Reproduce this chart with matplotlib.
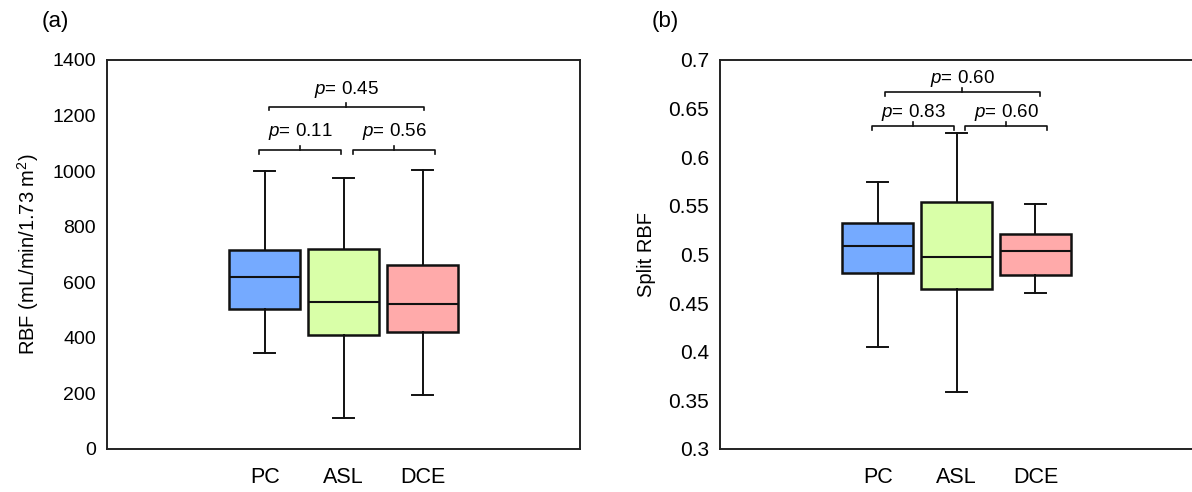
import numpy as np
import matplotlib
matplotlib.use('Agg')
import matplotlib.pyplot as plt

plt.rcParams['font.family'] = ['Liberation Sans', 'DejaVu Sans']
plt.rcParams['mathtext.fontset'] = 'custom'
plt.rcParams['mathtext.it'] = 'Liberation Sans:italic'
plt.rcParams['mathtext.rm'] = 'Liberation Sans'

# ---------------- data ----------------
methods = ['PC', 'ASL', 'DCE']
box_colors = ['#75AAFF', '#D9FFA8', '#FFAAAA']

# panel (a) RBF
rbf_low = [344, 110, 194]
rbf_q1 = [503, 411, 422]
rbf_med = [620, 528, 522]
rbf_q3 = [716, 719, 662]
rbf_high = [1000, 974, 1004]

# panel (b) split RBF
split_low = [0.405, 0.359, 0.460]
split_q1 = [0.481, 0.464, 0.479]
split_med = [0.509, 0.497, 0.503]
split_q3 = [0.532, 0.554, 0.521]
split_high = [0.574, 0.625, 0.552]

rbf_p = ['0.11', '0.56', '0.45']
split_p = ['0.83', '0.60', '0.60']

xtick_size = 15.5
ylabel_size = 14.5
ptext_size = 13.5
panel_size = 16
line_col = '#111111'


def make_stats(low, q1, med, q3, high):
    return [dict(whislo=a, q1=b, med=c, q3=d, whishi=e, fliers=[])
            for a, b, c, d, e in zip(low, q1, med, q3, high)]


def bracket(ax, x0, x1, y, hook, label, ty):
    xm = (x0 + x1) / 2
    ax.plot([x0, x0, x1, x1], [y - hook, y, y, y - hook], color=line_col, lw=1.2,
            solid_joinstyle='round')
    ax.plot([xm, xm], [y, y + hook], color=line_col, lw=1.2)
    ax.text(xm, ty, r'$p$= ' + label, ha='center', va='center', fontsize=ptext_size)


def draw_panel(ax, stats, ylim, yticks, yfmt, ysize):
    bp = ax.bxp(stats, positions=[1, 2, 3], widths=0.9, patch_artist=True,
                showfliers=False,
                boxprops=dict(linewidth=1.8, edgecolor=line_col),
                medianprops=dict(color=line_col, linewidth=1.5),
                whiskerprops=dict(color=line_col, linewidth=1.4),
                capprops=dict(color=line_col, linewidth=1.4),
                capwidths=0.27)
    for patch, c in zip(bp['boxes'], box_colors):
        patch.set_facecolor(c)
    ax.set_xlim(-1, 5)
    ax.set_ylim(*ylim)
    ax.set_yticks(yticks)
    ax.set_yticklabels([yfmt(v) for v in yticks])
    ax.set_xticks([1, 2, 3])
    ax.set_xticklabels(methods)
    ax.tick_params(axis='both', length=0)
    ax.tick_params(axis='y', pad=8, labelsize=ysize)
    ax.tick_params(axis='x', pad=13, labelsize=xtick_size)
    for s in ax.spines.values():
        s.set_linewidth(1.4)
        s.set_color('#222222')


fig = plt.figure(figsize=(11.92, 4.92), dpi=100)
ax1 = fig.add_axes([0.0898, 0.0874, 0.397, 0.791])
ax2 = fig.add_axes([0.604, 0.0874, 0.397, 0.791])

draw_panel(ax1, make_stats(rbf_low, rbf_q1, rbf_med, rbf_q3, rbf_high),
           (0, 1400), np.arange(0, 1401, 200), lambda v: f'{v:d}', 14)
ax1.set_ylabel(r'RBF (mL/min/1.73 m$^{2}$)', fontsize=ylabel_size, labelpad=8)
bracket(ax1, 0.93, 1.97, 1076, 14, rbf_p[0], 1143)
bracket(ax1, 2.12, 3.16, 1076, 14, rbf_p[1], 1143)
bracket(ax1, 1.05, 3.02, 1232, 14, rbf_p[2], 1294)
fig.text(0.035, 0.957, '(a)', fontsize=panel_size, ha='left', va='center')

draw_panel(ax2, make_stats(split_low, split_q1, split_med, split_q3, split_high),
           (0.3, 0.7), np.round(np.arange(0.3, 0.7001, 0.05), 2), lambda v: f'{v:g}', 15)
ax2.set_ylabel('Split RBF', fontsize=ylabel_size, labelpad=9)
bracket(ax2, 0.93, 1.97, 0.632, 0.004, split_p[0], 0.646)
bracket(ax2, 2.11, 3.15, 0.632, 0.004, split_p[1], 0.646)
bracket(ax2, 1.09, 3.06, 0.667, 0.004, split_p[2], 0.681)
fig.text(0.547, 0.957, '(b)', fontsize=panel_size, ha='left', va='center')

fig.savefig('out.png', dpi=100)
